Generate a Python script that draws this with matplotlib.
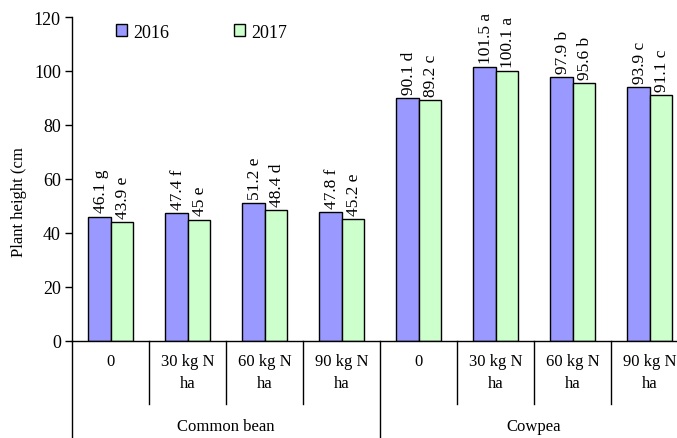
import matplotlib
matplotlib.use("Agg")
import matplotlib.pyplot as plt
import matplotlib.transforms as mtransforms
import numpy as np

plt.rcParams['font.family'] = ['Liberation Serif', 'DejaVu Serif']

groups = ["Common bean", "Cowpea"]
treatments = ["0", "30 kg N\nha", "60 kg N\nha", "90 kg N\nha"]
series_names = ["2016", "2017"]
v2016 = [46.1, 47.4, 51.2, 47.8, 90.1, 101.5, 97.9, 93.9]
v2017 = [43.9, 45.0, 48.4, 45.2, 89.2, 100.1, 95.6, 91.1]
lab2016 = ["46.1 g", "47.4 f", "51.2 e", "47.8 f", "90.1 d", "101.5 a", "97.9 b", "93.9 c"]
lab2017 = ["43.9 e", "45 e", "48.4 d", "45.2 e", "89.2 c", "100.1 a", "95.6 b", "91.1 c"]
yticks = [0, 20, 40, 60, 80, 100, 120]

W, H = 677, 439
fig = plt.figure(figsize=(W / 100, H / 100), dpi=100)
left, right, bottom_px, top_px = 72, 688, 342, 18
ax = fig.add_axes([left / W, (H - bottom_px) / H, (right - left) / W, (bottom_px - top_px) / H])

n = len(v2016)
x = np.arange(n)
bw = 0.286
c1, c2 = "#9999FF", "#CCFFCC"
ax.bar(x - bw / 2, v2016, bw, color=c1, edgecolor="black", linewidth=1.0, label=series_names[0])
ax.bar(x + bw / 2, v2017, bw, color=c2, edgecolor="black", linewidth=1.0, label=series_names[1])

fs = 12
fs_val = 12.5
fs_tick = 13
for xs, vals, labs in ((x - bw / 2, v2016, lab2016), (x + bw / 2, v2017, lab2017)):
    for xi, v, t in zip(xs, vals, labs):
        ax.text(xi + 0.02, v, t, rotation=90, ha='center', va='bottom', fontsize=fs_val,
                transform=mtransforms.offset_copy(ax.transData, fig=fig, x=0, y=3, units='points'))

ax.set_xlim(-0.5, n - 0.5)
ax.set_ylim(0, 120)
ax.set_yticks(yticks)
ax.tick_params(axis='y', labelsize=fs_tick, length=5, width=1, direction='out', pad=3)
ax.set_xticks([])
for s in ['top', 'right']:
    ax.spines[s].set_visible(False)
ax.spines['left'].set_linewidth(1)
ax.spines['bottom'].set_linewidth(1)

trans = mtransforms.blended_transform_factory(ax.transData, ax.transAxes)
ax_h = bottom_px - top_px
def yfrac(py):
    return (bottom_px - py) / ax_h

# category dividers
for i in range(n + 1):
    xb = i - 0.5
    y_end = yfrac(H + 5) if i % 4 == 0 else yfrac(405)
    ax.plot([xb, xb], [0, y_end], color='black', lw=1, transform=trans, clip_on=False)

for i in range(n):
    lines = treatments[i % 4].split("\n")
    ax.text(i, yfrac(362), lines[0], ha='center', va='center', fontsize=fs, transform=trans, clip_on=False)
    if len(lines) > 1:
        ax.text(i, yfrac(384), lines[1], ha='center', va='center', fontsize=fs, transform=trans, clip_on=False)

for g, name in enumerate(groups):
    ax.text(g * 4 + 1.5, yfrac(427), name, ha='center', va='center', fontsize=fs, transform=trans, clip_on=False)

fig.text(19 / W, 1 - 202 / H, "Plant height (cm", rotation=90, ha='center', va='center', fontsize=fs)

ax.legend(ncol=2, frameon=False, fontsize=fs_tick, handlelength=0.6, handleheight=0.6,
          handletextpad=0.35, columnspacing=3.6, loc='center left',
          bbox_to_anchor=((109 - left) / (right - left), yfrac(33)), borderaxespad=0)

fig.savefig("out.png", dpi=100)
